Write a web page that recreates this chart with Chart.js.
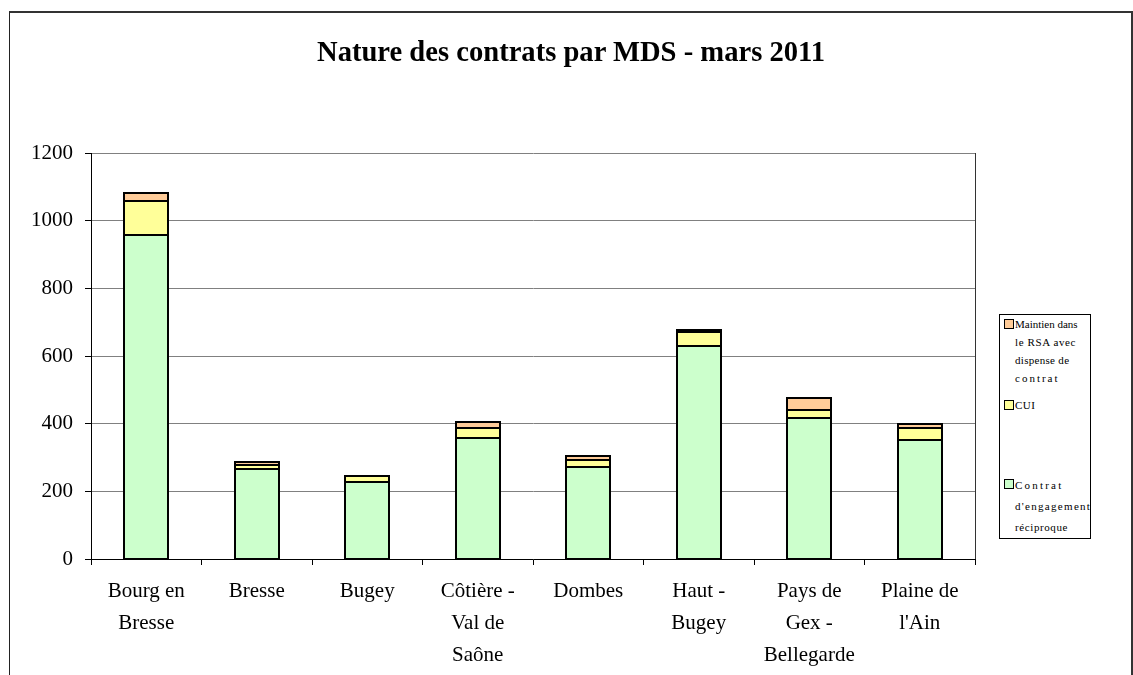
<!DOCTYPE html>
<html>
<head>
<meta charset="utf-8">
<script src="https://cdn.jsdelivr.net/npm/chart.js@4.4.1/dist/chart.umd.min.js"></script>
<style>
  html, body { margin: 0; padding: 0; background: #fff; }
  #wrap { position: relative; width: 1133px; height: 675px; overflow: hidden; }
  #frame { position: absolute; left: 9px; top: 11px; width: 1121px; height: 700px;
           border-left: 1px solid #222; border-top: 2px solid #333; border-right: 2px solid #333; }
  #title { position: absolute; left: 9px; width: 1124px; top: 36px; text-align: center; line-height: 32px;
           font-family: "Liberation Serif", "Times New Roman", serif; font-weight: bold; font-size: 28.6px; color: #000; }
  canvas { position: absolute; left: 0; top: 0; }
  #legend { position: absolute; left: 999px; top: 314px; width: 90px; height: 223px;
            border: 1px solid #000; background: #fff; overflow: hidden;
            font-family: "Liberation Serif", "Times New Roman", serif; font-size: 11px; color: #000; }
  .item { position: absolute; left: 4px; white-space: nowrap; }
  .sw { position: absolute; left: 0; top: 4px; width: 8px; height: 8px; border: 1px solid #000; }
  .txt { position: absolute; left: 11px; top: 0; }
  .ln { display: block; white-space: nowrap; }
</style>
</head>
<body>
<div id="wrap">
  <div id="frame"></div>
  <canvas id="c" width="1133" height="675"></canvas>
  <div id="title">Nature des contrats par MDS - mars 2011</div>
  <div id="legend"></div>
</div>
<script>
const categories = [
  ["Bourg en", "Bresse"],
  ["Bresse"],
  ["Bugey"],
  ["Côtière -", "Val de", "Saône"],
  ["Dombes"],
  ["Haut -", "Bugey"],
  ["Pays de", "Gex -", "Bellegarde"],
  ["Plaine de", "l'Ain"]
];
const contratValues  = [959, 265, 228, 358, 271, 629, 417, 352];
const cuiValues      = [100, 13, 18, 29, 21, 41, 24, 35];
const maintienValues = [24, 9, 0, 18, 12, 6, 35, 13];
const yTicks = [0, 200, 400, 600, 800, 1000, 1200];

const seriesNames = {
  contrat: ["Contrat", "d'engagement", "réciproque"],
  cui: ["CUI"],
  maintien: ["Maintien dans", "le RSA avec", "dispense de", "contrat"]
};
const colors = { contrat: "#CCFFCC", cui: "#FFFF99", maintien: "#FFCC99" };

const FONT = "'Liberation Serif', 'Times New Roman', serif";

const rightBorder = {
  id: 'rightBorder',
  afterDraw(chart) {
    const a = chart.chartArea, ctx = chart.ctx;
    ctx.save();
    ctx.strokeStyle = '#333';
    ctx.lineWidth = 1;
    ctx.beginPath();
    ctx.moveTo(a.right + 0.5, a.top);
    ctx.lineTo(a.right + 0.5, a.bottom);
    ctx.stroke();
    ctx.restore();
  }
};

// crisp black outlines around each bar segment (uses the library's computed bar geometry)
const barOutline = {
  id: 'barOutline',
  afterDatasetsDraw(chart) {
    const ctx = chart.ctx;
    ctx.save();
    ctx.strokeStyle = '#000';
    ctx.lineWidth = 2;
    chart.data.datasets.forEach((ds, i) => {
      const meta = chart.getDatasetMeta(i);
      meta.data.forEach(el => {
        const left = Math.round(el.x - el.width / 2);
        const right = Math.round(el.x + el.width / 2);
        const top = Math.round(Math.min(el.y, el.base));
        const bottom = Math.round(Math.max(el.y, el.base));
        ctx.strokeRect(left, top, right - left, bottom - top);
      });
    });
    ctx.restore();
  }
};

const barStyle = { borderWidth: 0, inflateAmount: 0 };

new Chart(document.getElementById('c'), {
  type: 'bar',
  data: {
    labels: categories,
    datasets: [
      Object.assign({ label: "Contrat d'engagement réciproque", data: contratValues, backgroundColor: colors.contrat }, barStyle),
      Object.assign({ label: "CUI", data: cuiValues, backgroundColor: colors.cui }, barStyle),
      Object.assign({ label: "Maintien dans le RSA avec dispense de contrat", data: maintienValues, backgroundColor: colors.maintien }, barStyle)
    ]
  },
  options: {
    responsive: false,
    animation: false,
    devicePixelRatio: 1,
    layout: { padding: { left: 10, top: 153, right: 158, bottom: 0 } },
    datasets: { bar: { barPercentage: 0.4, categoryPercentage: 1.0 } },
    plugins: { legend: { display: false }, tooltip: { enabled: false }, title: { display: false } },
    scales: {
      x: {
        stacked: true,
        grid: { display: true, drawOnChartArea: false, drawTicks: true, tickLength: 6, color: '#000', offset: true },
        border: { display: true, color: '#000', width: 1 },
        ticks: { color: '#000', font: { family: FONT, size: 21, lineHeight: 1.52 }, padding: 11, maxRotation: 0, autoSkip: false },
        afterFit(s) { s.height = 116; }
      },
      y: {
        stacked: true,
        min: 0, max: 1200,
        afterBuildTicks(s) { s.ticks = yTicks.map(v => ({ value: v })); },
        grid: { color: '#808080', lineWidth: 1, drawTicks: true, tickLength: 6, tickColor: '#000' },
        border: { display: true, color: '#000', width: 1 },
        ticks: { color: '#000', font: { family: FONT, size: 21 }, padding: 12, callback: v => String(v) },
        afterFit(s) { s.width = 81; }
      }
    }
  },
  plugins: [rightBorder, barOutline]
});

// legend (HTML text)
const legend = document.getElementById('legend');
const items = [
  { key: 'maintien', top: 0, lh: 18, sp: ['0px', '0.6px', '0.3px', '2px'] },
  { key: 'cui', top: 81, lh: 18, sp: ['0.5px'] },
  { key: 'contrat', top: 160, lh: 21, sp: ['2.2px', '1.3px', '0.6px'] }
];
items.forEach(it => {
  const d = document.createElement('div');
  d.className = 'item';
  d.style.top = it.top + 'px';
  const sw = document.createElement('div');
  sw.className = 'sw';
  sw.style.background = colors[it.key];
  const t = document.createElement('div');
  t.className = 'txt';
  seriesNames[it.key].forEach((line, i) => {
    const s = document.createElement('span');
    s.className = 'ln';
    s.style.lineHeight = it.lh + 'px';
    s.style.letterSpacing = it.sp[i];
    s.textContent = line;
    t.appendChild(s);
  });
  d.appendChild(sw); d.appendChild(t);
  legend.appendChild(d);
});
</script>
</body>
</html>
